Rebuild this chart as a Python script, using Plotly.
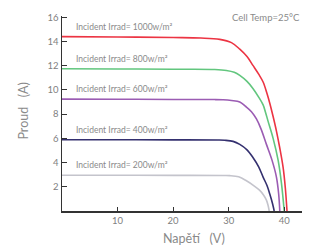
import plotly.graph_objects as go

# I-V curves (voltage V, current A)
labels = ["1000w/m²", "800w/m²", "600w/m²", "400w/m²", "200w/m²"]
colors = ["#ec3443", "#62c67e", "#9b5cb3", "#34306f", "#c4c4cc"]

v_1000 = [0, 10, 20, 25, 28.4, 30.5, 32.0, 33.3, 34.4, 35.4, 36.2, 36.9, 37.4, 38.0, 38.6, 39.2, 39.8, 40.2, 40.5]
i_1000 = [14.4, 14.37, 14.32, 14.28, 14.17, 13.9, 13.36, 12.75, 12.0, 11.3, 10.65, 9.7, 8.9, 7.8, 6.6, 5.2, 3.6, 1.9, 0]

v_800 = [0, 10, 20, 27.5, 29.6, 31.0, 32.0, 33.3, 34.4, 35.4, 36.2, 36.6, 37.1, 38.0, 38.9, 39.5, 40.0]
i_800 = [11.75, 11.73, 11.7, 11.68, 11.6, 11.45, 11.2, 10.7, 10.1, 9.4, 8.76, 8.2, 7.4, 6.0, 4.2, 2.3, 0]

v_600 = [0, 10, 20, 27.5, 29.0, 30.5, 32.0, 33.0, 34.1, 35.0, 35.8, 36.8, 37.8, 38.6, 39.0, 39.2]
i_600 = [9.24, 9.23, 9.21, 9.2, 9.18, 9.12, 9.0, 8.65, 8.2, 7.6, 6.8, 5.5, 4.2, 2.8, 1.4, 0]

v_400 = [0, 10, 20, 28.0, 29.3, 30.8, 32.0, 33.3, 34.4, 35.4, 36.2, 36.9, 37.4, 37.9, 38.2]
i_400 = [5.88, 5.88, 5.87, 5.86, 5.84, 5.75, 5.5, 5.05, 4.4, 3.65, 2.8, 2.1, 1.4, 0.6, 0]

v_200 = [0, 10, 20, 29.0, 30.2, 31.8, 33.2, 34.5, 35.6, 36.3, 36.8, 37.1, 37.3]
i_200 = [2.95, 2.95, 2.94, 2.93, 2.92, 2.82, 2.5, 2.1, 1.7, 1.3, 0.9, 0.45, 0]

series_v = [v_1000, v_800, v_600, v_400, v_200]
series_i = [i_1000, i_800, i_600, i_400, i_200]

x_ticks = [10, 20, 30, 40]
y_ticks = [2, 4, 6, 8, 10, 12, 14, 16]

font_family = "Lato, 'Open Sans', sans-serif"

fig = go.Figure()
for v, i, c in zip(series_v, series_i, colors):
    fig.add_trace(go.Scatter(x=v, y=i, mode="lines", line=dict(color=c, width=1.6, shape="spline", smoothing=1.0),
                             showlegend=False, hoverinfo="skip"))

for lab, i in zip(labels, series_i):
    fig.add_annotation(x=2.2, y=i[0], xref="x", yref="y", text="Incident Irrad= " + lab,
                       showarrow=False, xanchor="left", yanchor="bottom", yshift=3,
                       font=dict(size=8.5, color="#8a8a8a", family=font_family))

fig.add_annotation(x=1.0, y=1.0, xref="paper", yref="paper", text="Cell Temp=25°C",
                   showarrow=False, xanchor="right", yanchor="middle", yshift=-1,
                   font=dict(size=9.5, color="#8a8a8a", family=font_family))

fig.add_annotation(x=0.55, y=0, xref="paper", yref="paper", text="Napětí   (V)",
                   showarrow=False, xanchor="center", yanchor="middle", yshift=-27,
                   font=dict(size=12.5, color="#8a8a8a", family=font_family))
fig.add_annotation(x=0, y=0.51, xref="paper", yref="paper", text="Proud   (A)", textangle=-90,
                   showarrow=False, xanchor="center", yanchor="middle", xshift=-38,
                   font=dict(size=12.5, color="#8a8a8a", family=font_family))

fig.update_layout(
    width=315, height=249,
    margin=dict(l=62, r=13, t=13, b=38),
    paper_bgcolor="white", plot_bgcolor="white",
    font=dict(family=font_family, color="#777777", size=9.5),
)
fig.update_xaxes(range=[0, 43.2], tickvals=x_ticks, ticks="inside", ticklen=4, tickwidth=1.2,
                 tickcolor="#333333", showline=True, linecolor="#333333", linewidth=1.5,
                 showgrid=False, zeroline=False, tickfont=dict(size=9.5, color="#808080"))
fig.update_yaxes(range=[0, 16.1], tickvals=y_ticks, ticks="inside", ticklen=5, tickwidth=1.2,
                 tickcolor="#333333", showline=True, linecolor="#333333", linewidth=1.5,
                 showgrid=False, zeroline=False, tickfont=dict(size=9.5, color="#808080"))

fig.write_html("out.html", config={"displayModeBar": False, "staticPlot": True},
               post_script="document.body.style.margin='0px';document.body.style.overflow='hidden';")
